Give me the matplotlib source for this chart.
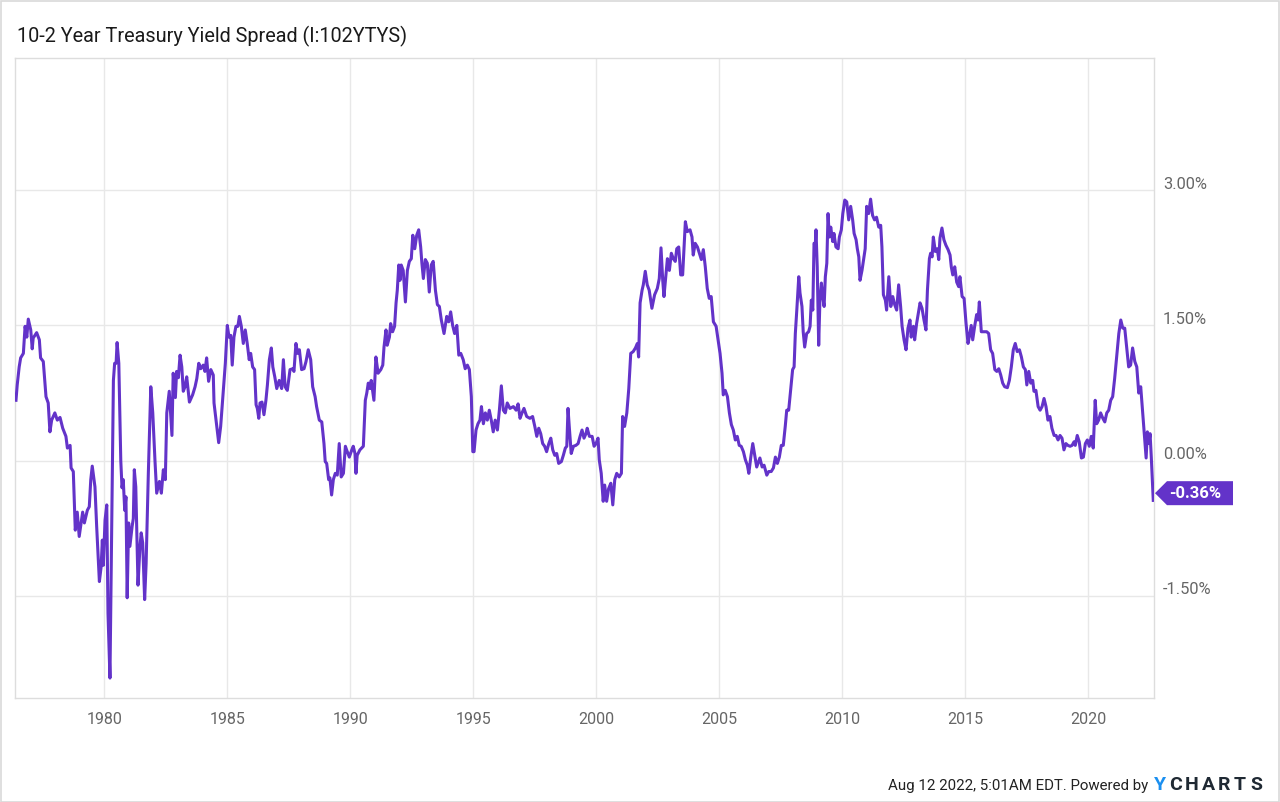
import matplotlib
matplotlib.use('Agg')
import matplotlib.pyplot as plt
from matplotlib.patches import Polygon, Rectangle
from matplotlib.transforms import IdentityTransform, blended_transform_factory, offset_copy

plt.rcParams['font.family'] = ['Roboto', 'DejaVu Sans']

title = '10-2 Year Treasury Yield Spread (I:102YTYS)'
footer = 'Aug 12 2022, 5:01AM EDT. Powered by'
x_ticks = [1980, 1985, 1990, 1995, 2000, 2005, 2010, 2015, 2020]
y_ticks = [-1.5, 0.0, 1.5, 3.0]
y_tick_labels = ['-1.50%', '0.00%', '1.50%', '3.00%']
last_label = '-0.36%'
last_value = -0.36

years = [
    1976.41, 1976.46, 1976.54, 1976.60, 1976.71, 1976.78, 1976.85, 1976.91, 1977.01, 1977.07,
    1977.11, 1977.25, 1977.36, 1977.41, 1977.52, 1977.63, 1977.72, 1977.79, 1977.86, 1977.99,
    1978.09, 1978.20, 1978.31, 1978.44, 1978.50, 1978.61, 1978.65, 1978.74, 1978.82, 1978.90,
    1978.98, 1979.12, 1979.19, 1979.31, 1979.39, 1979.45, 1979.51, 1979.62, 1979.69, 1979.80,
    1979.87, 1979.92, 1979.96, 1980.03, 1980.10, 1980.15, 1980.23, 1980.31, 1980.37, 1980.42,
    1980.48, 1980.52, 1980.59, 1980.64, 1980.67, 1980.72, 1980.77, 1980.83, 1980.88, 1980.93,
    1980.99, 1981.04, 1981.13, 1981.18, 1981.22, 1981.28, 1981.37, 1981.45, 1981.50, 1981.56,
    1981.64, 1981.70, 1981.79, 1981.89, 1981.97, 1982.06, 1982.13, 1982.24, 1982.32, 1982.40,
    1982.48, 1982.54, 1982.64, 1982.75, 1982.80, 1982.89, 1982.94, 1983.01, 1983.08, 1983.15,
    1983.21, 1983.28, 1983.35, 1983.41, 1983.46, 1983.59, 1983.69, 1983.76, 1983.84, 1983.92,
    1984.02, 1984.09, 1984.16, 1984.24, 1984.33, 1984.43, 1984.46, 1984.57, 1984.65, 1984.73,
    1984.84, 1984.92, 1985.00, 1985.07, 1985.14, 1985.20, 1985.27, 1985.35, 1985.43, 1985.49,
    1985.57, 1985.65, 1985.73, 1985.81, 1985.89, 1985.95, 1986.03, 1986.11, 1986.17, 1986.22,
    1986.28, 1986.33, 1986.41, 1986.49, 1986.57, 1986.63, 1986.71, 1986.79, 1986.85, 1986.93,
    1987.01, 1987.11, 1987.21, 1987.28, 1987.35, 1987.44, 1987.55, 1987.66, 1987.71, 1987.79,
    1987.86, 1987.93, 1988.02, 1988.12, 1988.20, 1988.29, 1988.39, 1988.47, 1988.57, 1988.63,
    1988.74, 1988.84, 1988.93, 1988.98, 1989.04, 1989.12, 1989.17, 1989.24, 1989.31, 1989.39,
    1989.47, 1989.55, 1989.63, 1989.72, 1989.80, 1989.85, 1989.96, 1990.06, 1990.12, 1990.19,
    1990.23, 1990.28, 1990.39, 1990.53, 1990.61, 1990.67, 1990.73, 1990.80, 1990.85, 1990.96,
    1991.04, 1991.13, 1991.24, 1991.32, 1991.37, 1991.45, 1991.50, 1991.59, 1991.64, 1991.72,
    1991.80, 1991.86, 1991.91, 1991.97, 1992.02, 1992.07, 1992.15, 1992.24, 1992.32, 1992.40,
    1992.48, 1992.54, 1992.62, 1992.70, 1992.78, 1992.86, 1992.91, 1992.97, 1993.05, 1993.13,
    1993.21, 1993.29, 1993.37, 1993.46, 1993.54, 1993.62, 1993.70, 1993.81, 1993.92, 1994.00,
    1994.08, 1994.16, 1994.24, 1994.33, 1994.41, 1994.49, 1994.59, 1994.67, 1994.76, 1994.84,
    1994.92, 1994.98, 1995.03, 1995.11, 1995.19, 1995.27, 1995.33, 1995.41, 1995.49, 1995.57,
    1995.65, 1995.73, 1995.81, 1995.89, 1995.98, 1996.06, 1996.14, 1996.22, 1996.30, 1996.38,
    1996.49, 1996.63, 1996.74, 1996.82, 1996.90, 1996.98, 1997.06, 1997.17, 1997.30, 1997.41,
    1997.50, 1997.58, 1997.66, 1997.74, 1997.82, 1997.90, 1997.98, 1998.07, 1998.15, 1998.23,
    1998.31, 1998.39, 1998.47, 1998.58, 1998.66, 1998.74, 1998.80, 1998.85, 1998.90, 1998.98,
    1999.07, 1999.17, 1999.26, 1999.34, 1999.42, 1999.50, 1999.58, 1999.63, 1999.72, 1999.83,
    1999.91, 1999.99, 2000.07, 2000.12, 2000.20, 2000.28, 2000.34, 2000.42, 2000.50, 2000.59,
    2000.67, 2000.75, 2000.83, 2000.93, 2001.02, 2001.07, 2001.15, 2001.24, 2001.32, 2001.40,
    2001.50, 2001.59, 2001.67, 2001.72, 2001.78, 2001.86, 2001.91, 2001.99, 2002.07, 2002.15,
    2002.26, 2002.37, 2002.48, 2002.56, 2002.63, 2002.70, 2002.75, 2002.83, 2002.89, 2002.97,
    2003.05, 2003.13, 2003.21, 2003.27, 2003.35, 2003.43, 2003.51, 2003.57, 2003.62, 2003.70,
    2003.81, 2003.89, 2003.94, 2004.02, 2004.11, 2004.19, 2004.27, 2004.35, 2004.43, 2004.51,
    2004.59, 2004.67, 2004.76, 2004.87, 2004.95, 2005.03, 2005.11, 2005.16, 2005.24, 2005.33,
    2005.41, 2005.49, 2005.57, 2005.65, 2005.73, 2005.81, 2005.89, 2005.98, 2006.06, 2006.14,
    2006.20, 2006.28, 2006.36, 2006.44, 2006.52, 2006.60, 2006.65, 2006.74, 2006.82, 2006.93,
    2007.01, 2007.11, 2007.20, 2007.28, 2007.36, 2007.44, 2007.52, 2007.60, 2007.68, 2007.74,
    2007.82, 2007.90, 2007.98, 2008.04, 2008.09, 2008.15, 2008.23, 2008.28, 2008.36, 2008.41,
    2008.47, 2008.55, 2008.63, 2008.69, 2008.74, 2008.80, 2008.85, 2008.90, 2008.93, 2008.98,
    2009.04, 2009.09, 2009.15, 2009.20, 2009.26, 2009.31, 2009.37, 2009.42, 2009.47, 2009.53,
    2009.61, 2009.66, 2009.74, 2009.83, 2009.88, 2009.96, 2010.02, 2010.10, 2010.18, 2010.26,
    2010.34, 2010.42, 2010.48, 2010.56, 2010.61, 2010.67, 2010.72, 2010.80, 2010.88, 2010.93,
    2010.99, 2011.07, 2011.15, 2011.23, 2011.31, 2011.39, 2011.48, 2011.56, 2011.61, 2011.67,
    2011.75, 2011.80, 2011.89, 2011.97, 2012.05, 2012.13, 2012.21, 2012.29, 2012.37, 2012.43,
    2012.51, 2012.59, 2012.67, 2012.75, 2012.80, 2012.89, 2012.94, 2013.02, 2013.10, 2013.16,
    2013.24, 2013.32, 2013.40, 2013.46, 2013.54, 2013.59, 2013.65, 2013.70, 2013.78, 2013.86,
    2013.92, 2013.97, 2014.05, 2014.13, 2014.21, 2014.30, 2014.38, 2014.43, 2014.49, 2014.57,
    2014.65, 2014.73, 2014.78, 2014.87, 2014.95, 2015.03, 2015.11, 2015.16, 2015.24, 2015.30,
    2015.38, 2015.46, 2015.52, 2015.57, 2015.65, 2015.76, 2015.87, 2015.95, 2016.03, 2016.11,
    2016.20, 2016.28, 2016.36, 2016.44, 2016.52, 2016.60, 2016.71, 2016.79, 2016.87, 2016.95,
    2017.03, 2017.11, 2017.20, 2017.28, 2017.36, 2017.44, 2017.50, 2017.58, 2017.66, 2017.74,
    2017.79, 2017.87, 2017.96, 2018.04, 2018.12, 2018.20, 2018.28, 2018.36, 2018.44, 2018.52,
    2018.61, 2018.69, 2018.77, 2018.85, 2018.93, 2019.01, 2019.09, 2019.17, 2019.26, 2019.34,
    2019.42, 2019.47, 2019.55, 2019.63, 2019.72, 2019.80, 2019.88, 2019.96, 2020.04, 2020.12,
    2020.20, 2020.28, 2020.34, 2020.42, 2020.50, 2020.59, 2020.67, 2020.75, 2020.83, 2020.91,
    2020.99, 2021.07, 2021.15, 2021.24, 2021.32, 2021.40, 2021.48, 2021.56, 2021.64, 2021.72,
    2021.80, 2021.89, 2021.97, 2022.05, 2022.13, 2022.21, 2022.29, 2022.35, 2022.40, 2022.46,
    2022.51, 2022.56, 2022.64,
]

spread = [
    0.67, 0.84, 1.04, 1.14, 1.19, 1.49, 1.37, 1.57, 1.45, 1.24,
    1.36, 1.42, 1.34, 1.14, 1.10, 0.71, 0.64, 0.32, 0.45, 0.53,
    0.45, 0.48, 0.36, 0.27, 0.14, 0.17, -0.08, -0.12, -0.77, -0.57,
    -0.84, -0.57, -0.69, -0.55, -0.51, -0.21, -0.06, -0.29, -0.73, -1.34,
    -1.18, -0.88, -1.16, -0.66, -0.49, -1.69, -2.41, -0.58, 0.89, 1.08,
    1.08, 1.31, 1.08, 0.40, 0.00, -0.30, -0.21, -0.55, -0.40, -1.52,
    -0.69, -0.95, -0.73, -0.64, -0.10, -0.29, -1.38, -0.95, -0.80, -0.91,
    -1.54, -1.14, -0.14, 0.82, 0.53, 0.00, -0.36, -0.23, -0.36, -0.10,
    -0.21, 0.53, 0.77, 0.28, 0.97, 0.70, 0.99, 0.92, 1.17, 1.04,
    0.77, 0.82, 0.93, 0.78, 0.65, 0.73, 0.82, 0.91, 1.08, 1.02,
    1.06, 0.99, 1.14, 0.88, 1.01, 0.95, 0.64, 0.38, 0.20, 0.38,
    0.78, 1.08, 1.50, 1.37, 1.39, 1.06, 1.37, 1.49, 1.49, 1.60,
    1.49, 1.30, 1.45, 1.30, 1.12, 1.19, 1.04, 1.01, 0.62, 0.58,
    0.47, 0.64, 0.65, 0.51, 0.67, 0.84, 1.12, 1.25, 1.04, 0.93,
    0.80, 0.89, 0.80, 1.12, 0.82, 0.78, 1.01, 1.02, 0.99, 1.30,
    1.19, 1.23, 1.01, 1.02, 1.10, 1.23, 1.12, 0.82, 0.71, 0.60,
    0.45, 0.43, 0.19, -0.01, -0.03, -0.21, -0.19, -0.38, -0.21, -0.14,
    -0.16, 0.19, -0.18, -0.14, 0.16, 0.12, 0.04, 0.12, 0.16, 0.08,
    -0.14, 0.06, 0.12, 0.16, 0.67, 0.75, 0.86, 0.80, 0.89, 0.67,
    1.15, 0.97, 1.01, 1.06, 1.26, 1.45, 1.28, 1.37, 1.52, 1.43,
    1.49, 1.75, 1.89, 2.17, 2.00, 2.17, 2.11, 1.76, 2.11, 2.21,
    2.24, 2.50, 2.35, 2.50, 2.56, 2.37, 2.19, 2.02, 2.23, 2.19,
    1.87, 2.17, 2.21, 1.89, 1.73, 1.71, 1.56, 1.41, 1.60, 1.54,
    1.65, 1.50, 1.41, 1.50, 1.17, 1.19, 1.12, 1.02, 1.06, 1.01,
    0.71, 0.10, 0.10, 0.34, 0.41, 0.45, 0.60, 0.41, 0.53, 0.45,
    0.56, 0.45, 0.32, 0.45, 0.34, 0.56, 0.83, 0.56, 0.53, 0.64,
    0.58, 0.60, 0.56, 0.63, 0.47, 0.53, 0.58, 0.49, 0.47, 0.49,
    0.38, 0.27, 0.36, 0.30, 0.19, 0.16, 0.10, 0.19, 0.25, 0.12,
    0.06, 0.08, -0.03, -0.01, 0.06, 0.14, 0.16, 0.58, 0.38, 0.08,
    0.16, 0.17, 0.19, 0.27, 0.34, 0.25, 0.30, 0.36, 0.27, 0.27,
    0.16, 0.19, 0.25, 0.01, -0.14, -0.45, -0.27, -0.45, -0.31, -0.25,
    -0.49, -0.21, -0.14, -0.18, -0.14, 0.49, 0.38, 0.53, 0.80, 1.19,
    1.21, 1.25, 1.30, 1.15, 1.75, 1.89, 1.95, 2.10, 1.95, 1.89,
    1.69, 1.84, 1.91, 2.02, 2.36, 2.00, 1.82, 2.06, 2.24, 2.11,
    2.30, 2.24, 2.21, 2.35, 2.37, 2.06, 2.06, 2.37, 2.65, 2.54,
    2.56, 2.48, 2.28, 2.41, 2.37, 2.30, 2.23, 2.34, 2.15, 1.91,
    1.80, 1.82, 1.54, 1.49, 1.34, 1.19, 0.97, 0.73, 0.78, 0.71,
    0.53, 0.40, 0.34, 0.23, 0.27, 0.17, 0.16, 0.10, 0.01, -0.05,
    -0.14, 0.04, 0.19, 0.06, -0.07, -0.01, 0.03, -0.07, -0.05, -0.16,
    -0.12, -0.12, -0.08, 0.04, -0.03, 0.04, 0.17, 0.17, 0.38, 0.56,
    0.56, 0.78, 1.01, 1.04, 1.41, 1.67, 2.04, 1.86, 1.71, 1.43,
    1.26, 1.41, 1.43, 1.49, 1.78, 1.67, 2.41, 2.39, 2.56, 2.15,
    1.28, 1.78, 1.97, 1.82, 1.71, 2.04, 2.19, 2.74, 2.48, 2.59,
    2.43, 2.52, 2.37, 2.35, 2.48, 2.56, 2.74, 2.89, 2.87, 2.67,
    2.82, 2.67, 2.52, 2.45, 2.35, 2.26, 2.00, 2.11, 2.26, 2.35,
    2.82, 2.74, 2.90, 2.72, 2.67, 2.70, 2.59, 2.61, 2.37, 1.84,
    1.78, 1.67, 2.04, 1.71, 1.82, 1.73, 1.67, 1.95, 1.71, 1.49,
    1.34, 1.23, 1.47, 1.56, 1.37, 1.49, 1.34, 1.52, 1.65, 1.75,
    1.69, 1.56, 1.45, 1.89, 2.24, 2.30, 2.26, 2.48, 2.32, 2.35,
    2.23, 2.47, 2.58, 2.45, 2.39, 2.34, 2.28, 2.15, 2.06, 2.15,
    1.98, 1.93, 2.04, 1.82, 1.80, 1.52, 1.30, 1.37, 1.50, 1.34,
    1.49, 1.62, 1.56, 1.76, 1.43, 1.43, 1.43, 1.41, 1.23, 1.19,
    1.01, 0.99, 1.02, 0.95, 0.86, 0.82, 0.81, 0.89, 1.04, 1.23,
    1.30, 1.21, 1.23, 1.15, 1.04, 1.01, 0.84, 0.99, 0.86, 0.89,
    0.77, 0.78, 0.60, 0.56, 0.60, 0.69, 0.60, 0.45, 0.49, 0.36,
    0.28, 0.28, 0.23, 0.28, 0.25, 0.12, 0.19, 0.17, 0.16, 0.17,
    0.21, 0.17, 0.28, 0.21, 0.03, 0.04, 0.19, 0.23, 0.16, 0.27,
    0.14, 0.67, 0.41, 0.45, 0.53, 0.47, 0.43, 0.53, 0.56, 0.67,
    0.71, 0.91, 1.15, 1.41, 1.56, 1.47, 1.47, 1.26, 1.04, 1.06,
    1.25, 1.10, 1.04, 0.75, 0.82, 0.53, 0.23, 0.03, 0.32, 0.19,
    0.30, 0.04, -0.44,
]

W, H = 1280, 802
LINE = '#6333C9'
GRID = '#e8e8e8'
TICK = '#666666'

fig = plt.figure(figsize=(W / 100, H / 100), dpi=100)
fig.patch.set_facecolor('white')
ax = fig.add_axes([15 / W, 1 - 698 / H, (1154 - 15) / W, (698 - 58) / H])

ax.plot(years, spread, color=LINE, lw=2.2, solid_joinstyle='round', zorder=3)
ax.set_xlim(1976.37, 2022.67)
ax.set_ylim(-2.631, 4.465)

ax.set_xticks(x_ticks)
ax.set_xticklabels([str(t) for t in x_ticks])
ax.set_yticks(y_ticks)
ax.set_yticklabels([])
ax.tick_params(axis='both', length=0)
ax.tick_params(axis='x', pad=10, labelsize=11.5, labelcolor=TICK)
ax.grid(True, color=GRID, lw=1.0, zorder=0)
for s in ax.spines.values():
    s.set_color('#dddddd')
    s.set_linewidth(1.0)

trans = offset_copy(blended_transform_factory(ax.transAxes, ax.transData), fig=fig, x=9, y=1.5, units='dots')
for v, lab in zip(y_ticks, y_tick_labels):
    ax.text(1.0, v, lab, transform=trans, ha='left', va='baseline', fontsize=11.8, color=TICK, clip_on=False)

# last value badge
fig.canvas.draw()
tip_x = ax.transAxes.transform((1.0, 0.0))[0] + 1
yc = ax.transData.transform((2020, last_value))[1]
hh = 12
badge = Polygon([(tip_x, yc), (tip_x + 12, yc + hh), (tip_x + 78, yc + hh), (tip_x + 78, yc - hh), (tip_x + 12, yc - hh)],
                closed=True, facecolor=LINE, edgecolor='none', transform=IdentityTransform())
fig.add_artist(badge)
fig.text((tip_x + 40) / W, yc / H, last_label, ha='center', va='center', color='white', fontsize=12, fontweight='bold')

# title and footer
fig.text(17 / W, 1 - 42 / H, title, ha='left', va='baseline', fontsize=14.3, color='#1a1a1a')
fig.text(1148 / W, 1 - 790 / H, footer, ha='right', va='baseline', fontsize=10.8, color='#222222')
logo = 'YCHARTS'
for i, ch in enumerate(logo):
    fig.text((1160 + 16 * i) / W, 1 - 790 / H, ch, ha='center', va='baseline', fontsize=14,
             fontweight='bold', color='#1a8ff0' if i == 0 else '#1f2933')

fig.add_artist(Rectangle((0.5 / W, 0.5 / H), 1 - 1.5 / W, 1 - 1.5 / H, transform=fig.transFigure,
                         fill=False, edgecolor='#d9d9d9', lw=1.2))

fig.savefig('out.png', dpi=100, facecolor='white')
